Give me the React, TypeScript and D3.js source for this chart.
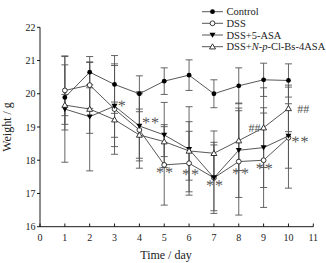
import React from "react";
import * as d3 from "d3";

const days = [1, 2, 3, 4, 5, 6, 7, 8, 9, 10];
const xTicks = [0, 1, 2, 3, 4, 5, 6, 7, 8, 9, 10, 11];
const yTicks = [16, 17, 18, 19, 20, 21, 22];

const controlMean = [19.89, 20.65, 20.28, 20.0, 20.38, 20.56, 20.0, 20.24, 20.42, 20.4];
const controlSd = [0.98, 0.47, 0.87, 0.54, 0.4, 0.46, 0.42, 0.54, 0.5, 0.5];
const dssMean = [20.1, 20.26, 19.54, 18.91, 17.86, 17.91, 17.47, 17.96, 18.0, 18.68];
const dssSd = [1.02, 0.7, 1.36, 1.15, 1.21, 0.96, 0.99, 1.61, 1.42, 1.52];
const asaMean = [19.54, 19.31, 19.63, 19.03, 18.76, 18.33, 17.47, 18.3, 18.38, 18.73];
const asaSd = [1.6, 1.63, 1.22, 0.97, 0.98, 1.28, 1.07, 1.42, 1.2, 0.97];
const npMean = [19.66, 19.54, 19.22, 18.76, 18.56, 18.28, 18.21, 18.59, 18.98, 19.56];
const npSd = [0.32, 0.73, 0.53, 0.78, 0.45, 0.88, 0.67, 0.9, 1.2, 0.7];

const seriesNames = ["Control", "DSS", "DSS+5-ASA", "DSS+N-p-Cl-Bs-4ASA"];

// annotations: day, value (centre of the mark), text
const annotDays = [3.29, 4.47, 5.03, 6.08, 7.04, 8.09, 9.05, 10.48, 8.63, 10.6];
const annotValues = [19.72, 19.21, 17.71, 17.65, 17.32, 17.68, 17.83, 18.64, 18.97, 19.54];
const annotTexts = ["*", "**", "**", "**", "**", "**", "**", "**", "##", "##"];

const W = 326, H = 263;
const font = "'Liberation Serif', 'Times New Roman', serif";

function Marker({ type, x, y }: { type: number; x: number; y: number }) {
  const r = 2.4;
  if (type === 0) return <circle cx={x} cy={y} r={r} fill="#000" />;
  if (type === 1) return <circle cx={x} cy={y} r={r} fill="#fff" stroke="#222" strokeWidth={0.9} />;
  if (type === 2) {
    const s = 3;
    return <path d={`M${x - s},${y - s * 0.75} L${x + s},${y - s * 0.75} L${x},${y + s * 0.95} Z`} fill="#000" />;
  }
  const s = 3;
  return (
    <path
      d={`M${x - s},${y + s * 0.75} L${x + s},${y + s * 0.75} L${x},${y - s * 0.95} Z`}
      fill="#fff"
      stroke="#222"
      strokeWidth={0.9}
    />
  );
}

export default function App() {
  const x = d3.scaleLinear().domain([0, 11]).range([40, 313.3]);
  const y = d3.scaleLinear().domain([16, 22]).range([226.7, 27.3]);
  const means = [controlMean, dssMean, asaMean, npMean];
  const sds = [controlSd, dssSd, asaSd, npSd];
  const line = d3
    .line<number>()
    .x((_, i) => x(days[i]))
    .y((d) => y(d));
  const cap = 3.5;
  const legendX = 202;
  const legendY = [11.7, 23.3, 35, 46.7];

  return (
    <svg width={W} height={H} style={{ position: "absolute", left: 0, top: 0, background: "#fff" }}>
      {/* error bars */}
      {means.map((m, si) =>
        m.map((v, i) => {
          const cx = x(days[i]);
          const t = y(v + sds[si][i]);
          const b = y(v - sds[si][i]);
          return (
            <g key={`e${si}-${i}`} stroke="#555" strokeWidth={0.9}>
              <line x1={cx} x2={cx} y1={t} y2={b} />
              <line x1={cx - cap} x2={cx + cap} y1={t} y2={t} />
              <line x1={cx - cap} x2={cx + cap} y1={b} y2={b} />
            </g>
          );
        })
      )}
      {/* lines */}
      {means.map((m, si) => (
        <path key={`l${si}`} d={line(m) || ""} fill="none" stroke="#444" strokeWidth={0.9} />
      ))}
      {/* markers */}
      {means.map((m, si) =>
        m.map((v, i) => <Marker key={`m${si}-${i}`} type={si} x={x(days[i])} y={y(v)} />)
      )}
      {/* annotations */}
      {annotTexts.map((t, i) => {
        const ax = x(annotDays[i]);
        const ay = y(annotValues[i]) + (t === "##" ? 4 : 8);
        return (
          <text
            key={`a${i}`}
            x={ax}
            y={ay}
            transform={`rotate(0.05 ${ax} ${ay})`}
            fontFamily={font}
            fontSize={t === "##" ? 12 : 16}
            fill="#555"
            textAnchor="middle"
            letterSpacing={t === "**" ? 1 : 0}
          >
            {t}
          </text>
        );
      })}
      {/* axes */}
      <line x1={40} x2={313.3} y1={226.7} y2={226.7} stroke="#000" strokeWidth={0.9} />
      <line x1={40} x2={40} y1={27.3} y2={226.7} stroke="#000" strokeWidth={0.9} />
      {xTicks.map((t) => (
        <g key={`xt${t}`}>
          <line x1={x(t)} x2={x(t)} y1={226.7} y2={223.5} stroke="#000" strokeWidth={0.9} />
          <text x={x(t)} y={241} fontFamily={font} fontSize={10} textAnchor="middle" fill="#222">
            {t}
          </text>
        </g>
      ))}
      {yTicks.map((t) => (
        <g key={`yt${t}`}>
          <line x1={37} x2={40} y1={y(t)} y2={y(t)} stroke="#000" strokeWidth={0.9} />
          <text x={35.5} y={y(t) + 3.5} fontFamily={font} fontSize={10} textAnchor="end" fill="#222">
            {t}
          </text>
        </g>
      ))}
      <text x={166} y={259} fontFamily={font} fontSize={12} textAnchor="middle" fill="#222">
        Time / day
      </text>
      <text
        transform={`translate(11,127) rotate(-90)`}
        fontFamily={font}
        fontSize={12}
        textAnchor="middle"
        fill="#222"
      >
        Weight / g
      </text>
      {/* legend */}
      {seriesNames.map((n, i) => (
        <g key={`lg${i}`}>
          <line x1={legendX} x2={legendX + 21} y1={legendY[i]} y2={legendY[i]} stroke="#444" strokeWidth={0.9} />
          <Marker type={i} x={legendX + 10.5} y={legendY[i]} />
          <text x={legendX + 24.5} y={legendY[i] + 3.6} fontFamily={font} fontSize={10.5} fill="#222">
            {i === 3 ? (
              <>
                DSS+<tspan fontStyle="italic">N</tspan>-<tspan fontStyle="italic">p</tspan>-Cl-Bs-4ASA
              </>
            ) : (
              n
            )}
          </text>
        </g>
      ))}
    </svg>
  );
}
